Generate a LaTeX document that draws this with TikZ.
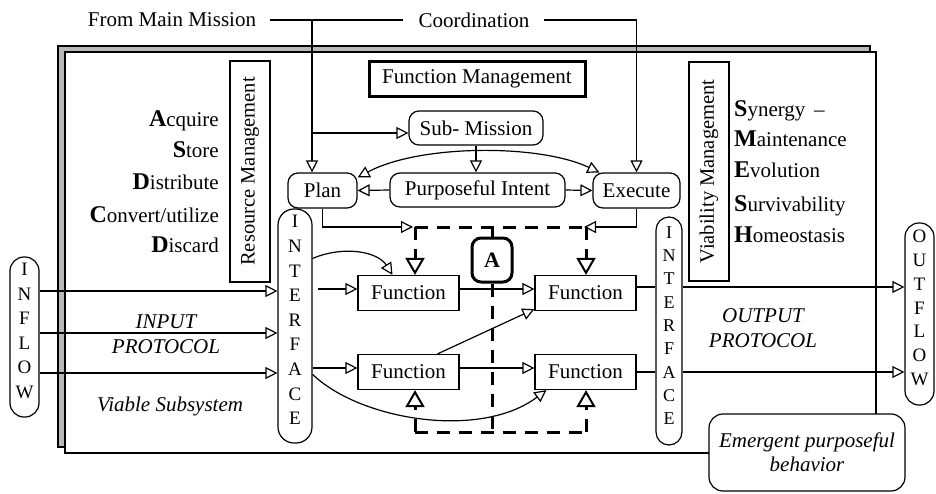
\documentclass[tikz,border=0pt]{standalone}
\usepackage{fontspec}
\setmainfont{Liberation Serif}
\usetikzlibrary{arrows.meta,calc}
\newcommand{\initcap}[1]{{\bfseries\fontsize{24}{24}\selectfont #1}}
\begin{document}
\begin{tikzpicture}[x=1pt,y=-1pt]
\tikzset{
 every node/.style={font=\fontsize{21}{24}\selectfont, inner sep=0pt},
 ln/.style={line width=1.2pt},
 tri/.style={ln,-{Triangle[open,length=12pt,width=12pt]}},
 bitri/.style={ln,{Triangle[open,length=12pt,width=12pt]}-{Triangle[open,length=12pt,width=12pt]}},
 rbox/.style={draw, ln, rounded corners=10pt, fill=white},
 fbox/.style={draw, ln, minimum width=101pt, minimum height=35pt, fill=white},
 dline/.style={line width=3pt, dash pattern=on 13pt off 9pt},
 dtri/.style={dline,-{Triangle[open,length=17pt,width=19pt,line width=2pt]}},
 vbox/.style={draw, ln, fill=white},
 vtext/.style={align=center, font=\fontsize{19}{24.6}\selectfont},
 itext/.style={align=center, font=\itshape\fontsize{21}{25}\selectfont},
}
\useasboundingbox (0,0) rectangle (936,493);
% frame
\draw[ln, fill=gray!55] (58,46) rectangle (870,447);
\draw[ln, fill=white] (65,52) rectangle (876,453);
% emergent
\node[rbox, rounded corners=14pt, minimum width=196pt, minimum height=77pt, align=center, font=\itshape\fontsize{21}{24}\selectfont] (em) at (807,452.5) {Emergent purposeful\\behavior};

% top texts
\node (mm) at (172,20) {From Main Mission};
\node (co) at (474,20) {Coordination};
\coordinate (j1) at (312,20);

% management nodes
\node[rbox, minimum width=69pt, minimum height=35pt] (plan) at (322.5,190.5) {Plan};
\node[rbox, minimum width=175pt, minimum height=34pt] (pi) at (477.5,190) {Purposeful Intent};
\node[rbox, minimum width=87pt, minimum height=35pt] (exec) at (636.5,190.5) {Execute};
\node[rbox, minimum width=134pt, minimum height=34pt] (sub) at (476,128) {Sub- Mission};
\node[draw, line width=3pt, minimum width=216pt, minimum height=35pt] (fm) at (477,78.5) {Function Management};
\node[draw, ln, rotate=90, minimum width=221pt, minimum height=40pt, font=\fontsize{20.5}{24}\selectfont] (rm) at (250,171.5) {Resource Management};
\node[draw, ln, rotate=90, minimum width=219pt, minimum height=40pt, font=\fontsize{20.5}{24}\selectfont] (vm) at (709,171.5) {Viability Management};

% lists
\node[anchor=mid east] (l1) at (219,124) {\initcap{A}cquire};
\node[anchor=mid east] (l2) at (219,155) {\initcap{S}tore};
\node[anchor=mid east] (l3) at (219,187) {\initcap{D}istribute};
\node[anchor=mid east] (l4) at (219,220) {\initcap{C}onvert/utilize};
\node[anchor=mid east] (l5) at (219,250) {\initcap{D}iscard};
\node[anchor=mid west] (r1) at (734,114) {\initcap{S}ynergy \,–};
\node[anchor=mid west] (r2) at (734,144) {\initcap{M}aintenance};
\node[anchor=mid west] (r3) at (734,175) {\initcap{E}volution};
\node[anchor=mid west] (r4) at (734,209) {\initcap{S}urvivability};
\node[anchor=mid west] (r5) at (734,240) {\initcap{H}omeostasis};

% vertical letter boxes
\node[vbox, rounded corners=16pt, minimum width=34pt, minimum height=234pt] (intl) at (295,326) {};
\node[vtext] (intlt) at (295,320) {I\\N\\T\\E\\R\\F\\A\\C\\E};
\node[vbox, rounded corners=13pt, minimum width=26pt, minimum height=228pt] (intr) at (669,331) {};
\node[vtext, font=\fontsize{18}{23.3}\selectfont] (intrt) at (669,325.5) {I\\N\\T\\E\\R\\F\\A\\C\\E};
\node[vbox, rounded corners=14pt, minimum width=29pt, minimum height=160pt] (inf) at (24.5,337) {};
\node[vtext] (inft) at (24.5,331) {I\\N\\F\\L\\O\\W};
\node[vbox, rounded corners=14pt, minimum width=29pt, minimum height=182pt] (outf) at (919.5,314) {};
\node[vtext, font=\fontsize{19}{23.8}\selectfont] (outft) at (919.5,308) {O\\U\\T\\F\\L\\O\\W};

% functions
\node[fbox] (f1) at (408.5,293) {Function};
\node[fbox] (f2) at (585.5,293) {Function};
\node[fbox] (f3) at (408.5,372) {Function};
\node[fbox] (f4) at (585.5,372) {Function};
\node[draw, line width=3pt, rounded corners=9pt, minimum width=40pt, minimum height=44pt, fill=white, font=\bfseries\fontsize{22}{22}\selectfont] (A) at (492,260) {A};

% italic labels
\node[itext] (ip) at (166,334.5) {INPUT\\PROTOCOL};
\node[itext] (op) at (763,328.5) {OUTPUT\\PROTOCOL};
\node[font=\itshape\fontsize{21}{24}\selectfont] (vs) at (170,406) {Viable Subsystem};

% top connectors
\draw[ln] ([xshift=14pt]mm.east) -- ([xshift=-15pt]co.west);
\draw[tri] (j1) -- (j1 |- plan.north);
\draw[tri] ($(j1 |- sub.west)+(0,5)$) -- ($(sub.west)+(0,5)$);
\draw[tri] ([xshift=14pt]co.east) -| (exec.north);
\draw[tri] (sub.south) -- (sub.south |- pi.north);
\draw[tri] (pi.west) -- (plan.east);
\draw[tri] (pi.east) -- (exec.west);
\draw[bitri] ($(plan.east)+(0,-13)$) .. controls (420,144) and (540,144) .. ($(exec.west)+(7,-18)$);

% dashed structure
\coordinate (dTL) at (415,227);
\coordinate (dTR) at (586,227);
\coordinate (dBL) at (415,432);
\coordinate (dBR) at (586,432);
\draw[tri, shorten >=2pt] (plan.south) |- (dTL);
\draw[tri, shorten >=-2pt] (exec.south) |- (dTR);
\draw[dline] (dTL) -- (dTR);
\draw[dline] (dBL) -- (dBR);
\draw[dtri] (dTL) -- (dTL |- f1.north);
\draw[dtri] (dTR) -- (dTR |- f2.north);
\draw[dtri] (dBL) -- (dBL |- f3.south);
\draw[dtri] (dBR) -- (dBR |- f4.south);
\draw[line width=3pt] (A.north |- dTL) -- (A.north);
\draw[dline] (A.south) -- (A.south |- dBL);

% function connectors
\draw[tri] ($(intl.east |- f1.west)+(5,-4)$) -- ($(f1.west)+(0,-4)$);
\draw[tri] ($(intl.north east)+(0,50)$) .. controls (345,245) and (378,252) .. ($(f1.north)+(-16,0)$);
\draw[tri] ($(intl.east |- f3.west)+(0,-4)$) -- ($(f3.west)+(0,-4)$);
\draw[tri] ($(intl.north east)+(0,166)$) .. controls (360,420) and (480,440) .. ($(f4.south west)+(12,0)$);
\draw[tri] ($(f1.east)+(0,-4)$) -- ($(f2.west)+(0,-4)$);
\draw[tri] ($(f3.north)+(29,0)$) -- ($(f2.south west)+(0,-2)$);
\draw[tri] ($(f3.east)+(0,-4)$) -- ($(f4.west)+(0,-4)$);
\draw[ln] ($(f2.east)+(0,-6)$) -- ($(intr.west |- f2.east)+(0,-6)$);
\draw[ln] (f4.east) -- (intr.west |- f4.east);

% in/out flows
\draw[tri] ($(inf.east)+(0,-46)$) coordinate (a1) -- (a1 -| intl.west);
\draw[tri] ($(inf.east)+(0,-4)$) coordinate (a2) -- (a2 -| intl.west);
\draw[tri] ($(inf.east)+(0,36)$) coordinate (a3) -- (a3 -| intl.west);
\draw[tri] ($(intr.east |- f2.east)+(0,-6)$) coordinate (b1) -- (b1 -| outf.west);
\draw[tri] (intr.east |- f4.east) coordinate (b2) -- (b2 -| outf.west);
\end{tikzpicture}
\end{document}
